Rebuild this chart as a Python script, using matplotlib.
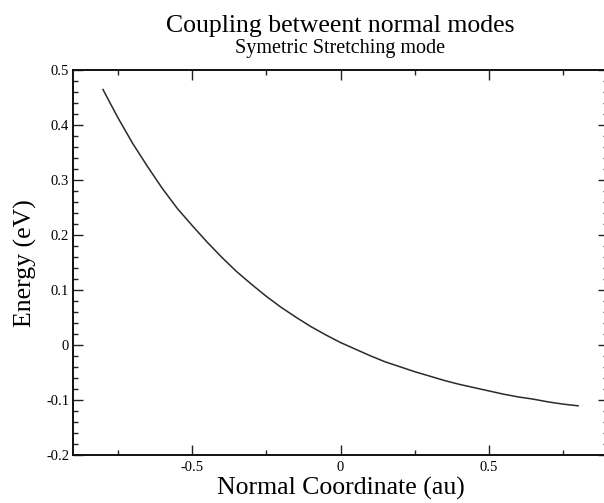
import matplotlib
matplotlib.use("Agg")
import matplotlib.pyplot as plt
from matplotlib.ticker import MultipleLocator, FuncFormatter

# Data
coord = [-0.8, -0.75, -0.7, -0.65, -0.6, -0.55, -0.5, -0.45, -0.4, -0.35,
         -0.3, -0.25, -0.2, -0.15, -0.1, -0.05, 0.0, 0.05, 0.1, 0.15,
         0.2, 0.25, 0.3, 0.35, 0.4, 0.45, 0.5, 0.55, 0.6, 0.65,
         0.7, 0.75, 0.8]
energy = [0.465, 0.414, 0.367, 0.325, 0.285, 0.249, 0.218, 0.188, 0.160, 0.134,
          0.111, 0.089, 0.069, 0.051, 0.034, 0.019, 0.005, -0.007, -0.019, -0.030,
          -0.039, -0.048, -0.056, -0.064, -0.071, -0.077, -0.083, -0.089, -0.094, -0.098,
          -0.103, -0.107, -0.110]

title = "Coupling betweent normal modes"
subtitle = "Symetric Stretching mode"
xlabel = "Normal Coordinate (au)"
ylabel = "Energy (eV)"

plt.rcParams['font.family'] = ['Liberation Serif', 'DejaVu Serif']
plt.rcParams['axes.unicode_minus'] = False

W, H = 604, 503
fig = plt.figure(figsize=(W / 100, H / 100), dpi=100)
left, right, top, bottom = 73.3, 607.8, 70.3, 455.3
aw, ah = right - left, bottom - top
ax = fig.add_axes([left / W, 1 - bottom / H, aw / W, ah / H])

ax.plot(coord, energy, color='#2a2a2a', lw=1.1)

ax.set_xlim(-0.9, 0.9)
ax.set_ylim(-0.2, 0.5)
ax.xaxis.set_major_locator(MultipleLocator(0.5))
ax.xaxis.set_minor_locator(MultipleLocator(0.25))
ax.yaxis.set_major_locator(MultipleLocator(0.1))
ax.yaxis.set_minor_locator(MultipleLocator(0.02))
fmt = FuncFormatter(lambda v, p: f"{round(v, 2):g}")
ax.xaxis.set_major_formatter(fmt)
ax.yaxis.set_major_formatter(fmt)

ax.tick_params(which='both', direction='in', top=True, right=True,
               labelsize=10.5, width=1.0, color='#222222')
ax.tick_params(axis='x', pad=4)
ax.tick_params(axis='y', pad=3)
ax.tick_params(which='major', length=7.2)
ax.tick_params(which='minor', length=3.8)
for s in ax.spines.values():
    s.set_linewidth(1.4)
    s.set_color('#111111')

ax.set_xlabel(xlabel, fontsize=18.5, va='baseline')
ax.xaxis.set_label_coords(0.5, -(495 - bottom) / ah)
ax.set_ylabel(ylabel, fontsize=18.5)
ax.yaxis.set_label_coords(-(left - 37) / aw, 0.5)

cx = (left + right) / 2 / W
fig.text(cx, 1 - 31.7 / H, title, ha='center', va='baseline', fontsize=18.5)
fig.text(cx, 1 - 53.3 / H, subtitle, ha='center', va='baseline', fontsize=14.5)

fig.savefig("out.png", dpi=100)
